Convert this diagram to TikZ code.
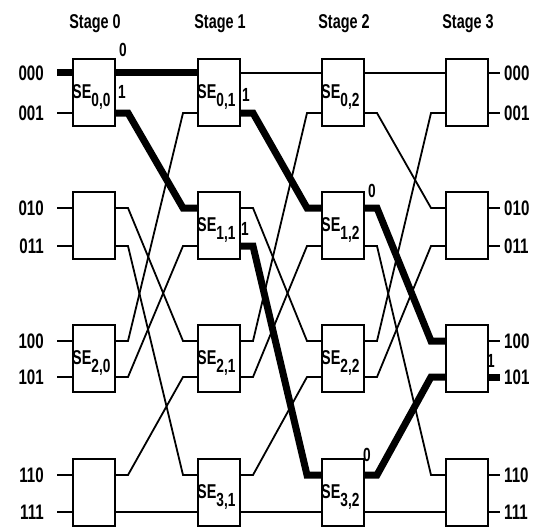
\documentclass[tikz,border=0pt]{standalone}
\usepackage{fontspec}
\setmainfont{Liberation Sans}[FakeStretch=0.72]
\usetikzlibrary{calc}
\begin{document}
\begin{tikzpicture}[x=1pt,y=-1pt,
  sebox/.style={draw, line width=2.2pt, minimum width=42pt, minimum height=67pt, anchor=north west, inner sep=0pt},
  wire/.style={line width=1.8pt},
  hot/.style={line width=7pt},
  lbl/.style={font=\bfseries\fontsize{20}{22}\selectfont, inner sep=0pt},
  plbl/.style={font=\bfseries\fontsize{21}{22}\selectfont, inner sep=0pt},
  bitlbl/.style={font=\bfseries\fontsize{19}{20}\selectfont, inner sep=0pt},
  selbl/.style={font=\bfseries\fontsize{20}{22}\selectfont, inner sep=0pt, anchor=base west}]
\useasboundingbox (0,0) rectangle (538,527);
% boxes and ports
\foreach \s/\L in {0/72,1/197,2/321,3/445} {
  \node[lbl, anchor=base] (st\s) at (\L+23,29) {Stage \s};
  \foreach \r/\T/\pa/\pb in {0/58/73/113, 1/191/208/246, 2/324/341/377, 3/458/475/512} {
    \node[sebox] (b\s\r) at (\L,\T) {};
    \coordinate (i\s\r0) at (\L,\pa);
    \coordinate (i\s\r1) at (\L,\pb);
    \coordinate (o\s\r0) at (\L+42,\pa);
    \coordinate (o\s\r1) at (\L+42,\pb);
  }
}
% SE labels
\newcommand{\selab}[2]{SE\raisebox{-8pt}{\fontsize{19}{19}\selectfont #1,#2}}
\foreach \s/\r/\L/\T in {0/0/72/58, 0/2/72/324,
  1/0/197/58, 1/1/197/191, 1/2/197/324, 1/3/197/458,
  2/0/321/58, 2/1/321/191, 2/2/321/324, 2/3/321/458} {
  \node[selbl] (se\s\r) at (\L,\T+40) {\selab{\r}{\s}};
}
% inter-stage wires (perfect shuffle)
\foreach \s/\t in {0/1,1/2,2/3} {
  \foreach \a/\b in {00/00, 01/10, 10/20, 11/30, 20/01, 21/11, 30/21, 31/31} {
    \draw[wire] (o\s\a) -- ++(14,0) -- ($(i\t\b)+(-14,0)$) -- (i\t\b);
  }
}
% input and output stubs with labels
\foreach \r/\b/\y/\txt in {0/0/73/000, 0/1/113/001, 1/0/208/010, 1/1/246/011,
  2/0/341/100, 2/1/377/101, 3/0/475/110, 3/1/512/111} {
  \coordinate (ei\r\b) at (57,\y);
  \coordinate (eo\r\b) at (500,\y);
  \draw[wire] (ei\r\b) -- (i0\r\b);
  \draw[wire] (o3\r\b) -- (eo\r\b);
  \node[plbl, anchor=east] (pin\r\b) at (44,\y) {\txt};
  \node[plbl, anchor=west] (pout\r\b) at (504,\y) {\txt};
}
% highlighted path
\draw[hot] (ei00) -- (i000);
\draw[hot] (o000) -- (i100);
\draw[hot] (o001) -- ++(14,0) -- ($(i110)+(-14,0)$) -- (i110);
\draw[hot] (o101) -- ++(14,0) -- ($(i210)+(-14,0)$) -- (i210);
\draw[hot] (o111) -- ++(14,0) -- ($(i230)+(-14,0)$) -- (i230);
\draw[hot] (o210) -- ++(14,0) -- ($(i320)+(-14,0)$) -- (i320);
\draw[hot] (o230) -- ++(14,0) -- ($(i321)+(-14,0)$) -- (i321);
\draw[hot] (o321) -- (eo21);
% bit labels
\node[bitlbl] (z1) at (123,50) {0};
\node[bitlbl] (z2) at (122,92) {1};
\node[bitlbl] (z3) at (246,95) {1};
\node[bitlbl] (z4) at (245,229) {1};
\node[bitlbl] (z5) at (372,191) {0};
\node[bitlbl] (z6) at (367,455) {0};
\node[bitlbl] (z7) at (491,361) {1};
\end{tikzpicture}
\end{document}
